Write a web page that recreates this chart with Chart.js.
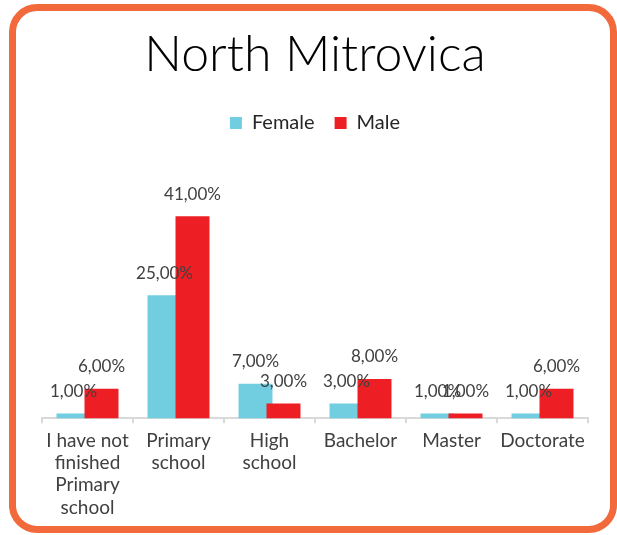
<!DOCTYPE html>
<html>
<head>
<meta charset="utf-8">
<script src="https://cdn.jsdelivr.net/npm/chart.js@4"></script>
<style>
html, body { margin: 0; padding: 0; background: #fff; }
#wrap { position: relative; width: 617px; height: 535px; overflow: hidden; }
#frame { position: absolute; left: 9px; top: 4px; width: 608px; height: 529px; box-sizing: border-box; border: 7px solid #F26A3C; border-radius: 28px; }
canvas { position: absolute; left: 0; top: 0; }
</style>
</head>
<body>
<div id="wrap">
  <div id="frame"></div>
  <canvas id="chart" width="617" height="535"></canvas>
</div>
<script>
// data (percent)
var categories = [["I have not", "finished", "Primary", "school"], ["Primary", "school"], ["High", "school"], "Bachelor", "Master", "Doctorate"];
var female = [1, 25, 7, 3, 1, 1];
var male = [6, 41, 3, 8, 1, 6];

// draw datasets first-to-last so Male sits on top of Female where they overlap
var drawInOrder = {
    id: 'drawInOrder',
    beforeDatasetsDraw: function(chart) {
        chart.getSortedVisibleDatasetMetas().forEach(function(meta) {
            meta.controller.draw();
        });
        return false;
    }
};

// extra room under the legend
var legendSpace = {
    id: 'legendSpace',
    beforeInit: function(chart) {
        var fit = chart.legend.fit;
        chart.legend.fit = function() {
            fit.bind(chart.legend)();
            this.height += 29;
        };
    }
};

// "41,00%" style labels above each bar
var barLabels = {
    id: 'barLabels',
    afterDraw: function(chart) {
        var ctx = chart.ctx;
        ctx.save();
        ctx.font = '17px Lato';
        ctx.fillStyle = '#404040';
        ctx.textAlign = 'center';
        ctx.textBaseline = 'middle';
        chart.data.datasets.forEach(function(ds, i) {
            chart.getDatasetMeta(i).data.forEach(function(bar, j) {
                var txt = ds.data[j].toFixed(2).replace('.', ',') + '%';
                ctx.fillText(txt, bar.x, bar.y - 22);
            });
        });
        ctx.restore();
    }
};

var ctx = document.getElementById('chart').getContext('2d');
var chart = new Chart(ctx, {
    type: 'bar',
    data: {
        labels: categories,
        datasets: [{
            label: 'Female',
            data: female,
            backgroundColor: '#71CDE0'
        }, {
            label: 'Male',
            data: male,
            backgroundColor: '#ED1F24'
        }]
    },
    options: {
        responsive: false,
        animation: false,
        categoryPercentage: 0.615,
        barPercentage: 1.214,
        layout: {
            padding: { left: 42, right: 29, top: 0, bottom: 10 }
        },
        plugins: {
            title: {
                display: true,
                text: 'North Mitrovica',
                color: '#000',
                font: { family: 'Lato', size: 50, weight: '300' },
                padding: { top: 25, bottom: 8 }
            },
            legend: {
                position: 'top',
                labels: {
                    color: '#262626',
                    font: { family: 'Lato', size: 20 },
                    boxWidth: 12,
                    boxHeight: 12,
                    padding: 20
                }
            },
            tooltip: { enabled: false }
        },
        scales: {
            x: {
                grid: {
                    offset: true,
                    drawOnChartArea: false,
                    tickLength: 5,
                    color: '#D9D9D9',
                    lineWidth: 2
                },
                border: { color: '#D9D9D9', width: 2 },
                ticks: {
                    color: '#404040',
                    font: { family: 'Lato', size: 19, lineHeight: 1.18 },
                    padding: 6,
                    maxRotation: 0,
                    autoSkip: false
                }
            },
            y: {
                display: false,
                min: 0,
                max: 50
            }
        }
    },
    plugins: [legendSpace, drawInOrder, barLabels]
});
</script>
</body>
</html>
